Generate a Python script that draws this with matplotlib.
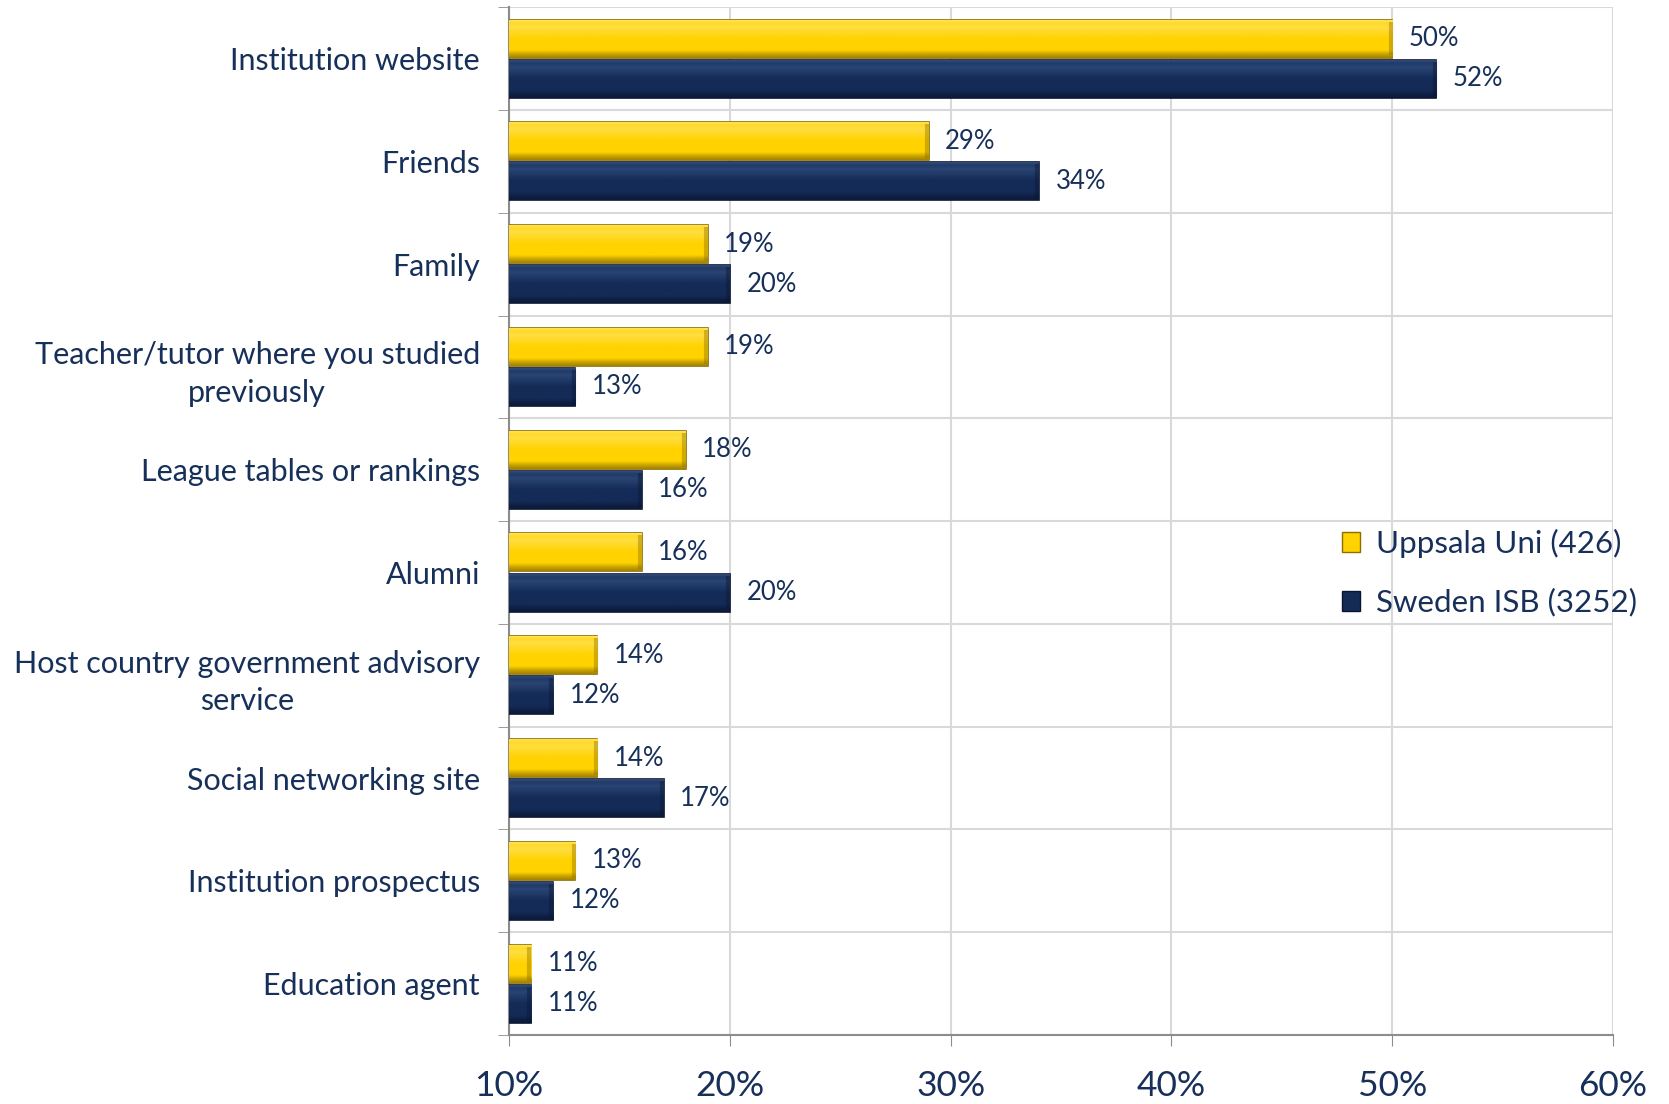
import numpy as np
import matplotlib.pyplot as plt
import matplotlib.colors as mcolors
from matplotlib.patches import Patch

# Sources of information (top to bottom)
categories = ["Institution website", "Friends", "Family",
              "Teacher/tutor where you studied\npreviously",
              "League tables or rankings", "Alumni",
              "Host country government advisory\nservice",
              "Social networking site", "Institution prospectus", "Education agent"]
uppsala = [50, 29, 19, 19, 18, 16, 14, 14, 13, 11]
sweden = [52, 34, 20, 13, 16, 20, 12, 17, 12, 11]
series_names = ["Uppsala Uni (426)", "Sweden ISB (3252)"]
xticks = [10, 20, 30, 40, 50, 60]

TEXT = "#17305a"
plt.rcParams["font.family"] = ["Lato", "DejaVu Sans"]

fig = plt.figure(figsize=(16.69, 11.04), dpi=100)
ax = fig.add_axes([0.305, 0.0625, 0.6615, 0.931])

BASE = 10
y = np.arange(len(categories))
h = 0.37


def bevel_bars(ax, ys, vals, base_col, light, dark):
    bars = ax.barh(ys, np.array(vals) - BASE, left=BASE, height=h,
                   color=base_col, edgecolor=dark, linewidth=1.2, zorder=3)
    # vertical shading inside each bar: bright ridge near the top, dark rim at the bottom
    t = np.linspace(0, 1, 60)
    prof = np.interp(t, [0, 0.1, 0.2, 0.5, 0.8, 0.9, 1.0],
                     [0.6, 0.25, 0.4, 0.0, 0.0, -0.45, -0.8])
    img = np.zeros((60, 2, 3))
    bc = np.array(mcolors.to_rgb(base_col))
    lc = np.array(mcolors.to_rgb(light))
    dc = np.array(mcolors.to_rgb(dark))
    for i, p in enumerate(prof):
        img[i, :, :] = bc + p * (lc - bc) if p > 0 else bc + (-p) * (dc - bc)
    for b in bars:
        x0, y0 = b.get_x(), b.get_y()
        im = ax.imshow(img, extent=(x0, x0 + b.get_width(), y0 + b.get_height(), y0),
                       aspect="auto", zorder=3.5, interpolation="bilinear")
        im.set_clip_path(b)
        # darker cap at the bar end
        ax.plot([x0 + b.get_width() - 0.08] * 2, [y0 + 0.02, y0 + b.get_height() - 0.02],
                color=dark, lw=3, alpha=0.4, zorder=3.6, solid_capstyle="butt")
    return bars


bevel_bars(ax, y - h / 2 - 0.01, uppsala, "#FFD200", "#FFF1A0", "#8C6E00")
bevel_bars(ax, y + h / 2 + 0.01, sweden, "#142B57", "#4A6A9C", "#0A1530")

for i in range(len(categories)):
    ax.text(uppsala[i] + 0.75, y[i] - h / 2 - 0.01, f"{uppsala[i]}%", va="center",
            ha="left", fontsize=18.5, color=TEXT, zorder=5)
    ax.text(sweden[i] + 0.75, y[i] + h / 2 + 0.01, f"{sweden[i]}%", va="center",
            ha="left", fontsize=18.5, color=TEXT, zorder=5)

ax.set_xlim(10, 60)
ax.set_ylim(len(categories) - 0.5, -0.5)
ax.set_xticks(xticks)
ax.set_xticklabels([f"{v}%" for v in xticks], fontsize=25.5, color=TEXT)
ax.set_yticks(y)
ax.set_yticklabels(categories, fontsize=22, color=TEXT, ha="right",
                   multialignment="center", linespacing=1.4)
ax.tick_params(axis="y", length=0, pad=21)
ax.tick_params(axis="x", length=8, color="#8c8c8c", pad=17)

# category separators and vertical grid
ax.set_yticks(np.arange(-0.5, len(categories), 1), minor=True)
ax.tick_params(axis="y", which="minor", length=8, color="#8c8c8c")
ax.grid(axis="y", which="minor", color="#d9d9d9", linewidth=1.5, zorder=0)
ax.grid(axis="x", which="major", color="#d9d9d9", linewidth=1.5, zorder=0)
for s in ["top", "right"]:
    ax.spines[s].set_visible(False)
ax.spines["left"].set_color("#8c8c8c")
ax.spines["bottom"].set_color("#8c8c8c")
ax.spines["left"].set_linewidth(1.5)
ax.spines["bottom"].set_linewidth(1.5)

handles = [Patch(facecolor="#FFD200", edgecolor="#8C6E00"),
           Patch(facecolor="#142B57", edgecolor="#0A1530")]
fig.legend(handles, series_names, loc="center left", bbox_to_anchor=(0.787, 0.481),
           frameon=False, fontsize=22.5, labelcolor=TEXT, handlelength=0.6,
           handleheight=0.6, handletextpad=0.5, labelspacing=0.95)

fig.savefig("out.png", dpi=100)
